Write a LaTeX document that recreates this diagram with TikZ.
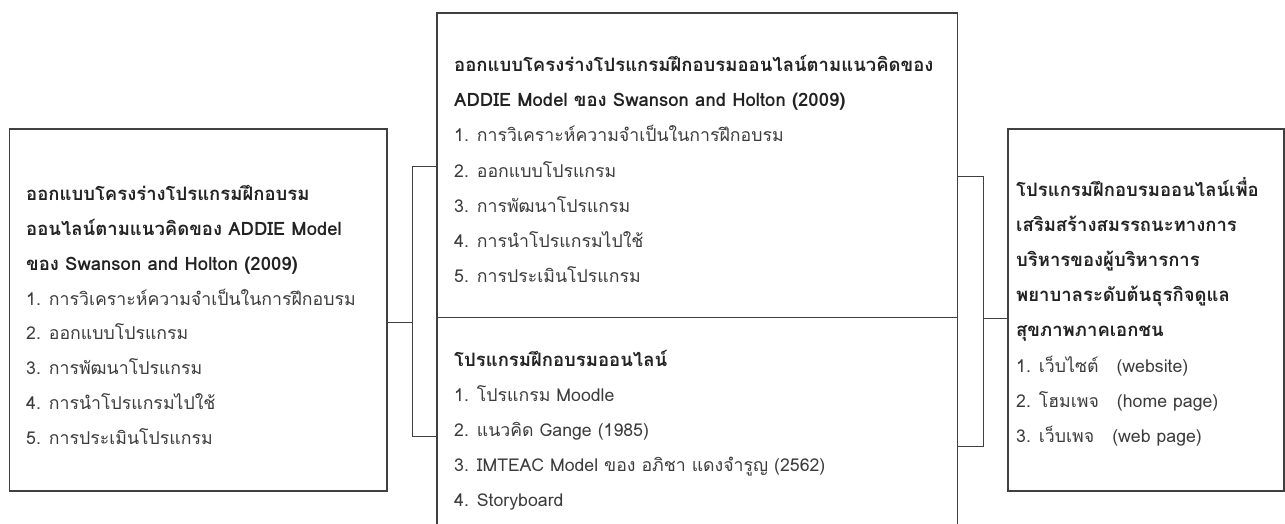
\documentclass[tikz,border=0pt]{standalone}
\usepackage{fontspec}
\setmainfont[Script=Thai]{Loma}
\definecolor{linec}{HTML}{404040}
\definecolor{headc}{HTML}{222222}
\definecolor{itemc}{HTML}{3C3C3C}
\tikzset{
  boxnode/.style={draw=linec, line width=1.1pt, inner sep=0pt, outer sep=0pt, rectangle},
  conn/.style={draw=linec, line width=1pt},
  headtxt/.style={anchor=base west, inner sep=0pt, font=\fontsize{18.5}{22}\selectfont\bfseries, text=headc},
  itemtxt/.style={anchor=base west, inner sep=0pt, font=\fontsize{17.7}{21}\selectfont, text=itemc}
}
\begin{document}
\begin{tikzpicture}[x=1pt,y=-1pt]
\useasboundingbox (0,0) rectangle (1285,524);
% boxes
\node[boxnode, minimum width=377.5pt, minimum height=362pt] (L) at (198.25,310) {};
\node[boxnode, minimum width=520.5pt, minimum height=304.5pt] (T) at (697.25,165.25) {};
\node[boxnode, minimum width=520.5pt, minimum height=222.5pt] (B) at (697.25,428.75) {};
\node[boxnode, minimum width=276pt, minimum height=362pt] (R) at (1146,310) {};
% left box text
\foreach \t [count=\i from 0] in {ออกแบบโครงร่างโปรแกรมฝึกอบรม, ออนไลน์ตามแนวคิดของ ADDIE Model, ของ Swanson and Holton (2009)}
  \node[headtxt] (Lh\i) at (26,200+35*\i) {\t};
\foreach \t [count=\i from 0] in {1. การวิเคราะห์ความจำเป็นในการฝึกอบรม, 2. ออกแบบโปรแกรม, 3. การพัฒนาโปรแกรม, 4. การนำโปรแกรมไปใช้, 5. การประเมินโปรแกรม}
  \node[itemtxt] (Li\i) at (26,305+34.8*\i) {\t};
% top centre text
\foreach \t [count=\i from 0] in {ออกแบบโครงร่างโปรแกรมฝึกอบรมออนไลน์ตามแนวคิดของ, ADDIE Model ของ Swanson and Holton (2009)}
  \node[headtxt] (Th\i) at (454,72+35*\i) {\t};
\foreach \t [count=\i from 0] in {1. การวิเคราะห์ความจำเป็นในการฝึกอบรม, 2. ออกแบบโปรแกรม, 3. การพัฒนาโปรแกรม, 4. การนำโปรแกรมไปใช้, 5. การประเมินโปรแกรม}
  \node[itemtxt] (Ti\i) at (454,142+35.2*\i) {\t};
% bottom centre text
\node[headtxt] (Bh0) at (454,366) {โปรแกรมฝึกอบรมออนไลน์};
\foreach \t [count=\i from 0] in {1. โปรแกรม Moodle, 2. แนวคิด Gange (1985), 3. IMTEAC Model ของ อภิชา แดงจำรูญ (2562), 4. Storyboard}
  \node[itemtxt] (Bi\i) at (454,401+35.3*\i) {\t};
% right box text
\foreach \t [count=\i from 0] in {โปรแกรมฝึกอบรมออนไลน์เพื่อ, เสริมสร้างสมรรถนะทางการ, บริหารของผู้บริหารการ, พยาบาลระดับต้นธุรกิจดูแล, สุขภาพภาคเอกชน}
  \node[headtxt] (Rh\i) at (1016,196+35*\i) {\t};
\node[itemtxt] (Ri0) at (1016,372) {1. เว็บไซต์\hspace{18pt}(website)};
\node[itemtxt] (Ri1) at (1016,407) {2. โฮมเพจ\hspace{18pt}(home page)};
\node[itemtxt] (Ri2) at (1016,442) {3. เว็บเพจ\hspace{18pt}(web page)};
% left connector
\coordinate (jl) at (412,322);
\coordinate (lt) at (412,166);
\coordinate (lb) at (412,436);
\draw[conn] (L.east |- jl) -- (jl);
\draw[conn] (lt -| T.west) -- (lt) -- (lb) -- (lb -| B.west);
% right connector
\coordinate (jr) at (983,318);
\coordinate (rt) at (983,176);
\coordinate (rb) at (983,446);
\draw[conn] (rt -| T.east) -- (rt) -- (rb) -- (rb -| B.east);
\draw[conn] (jr) -- (jr -| R.west);
\end{tikzpicture}
\end{document}
